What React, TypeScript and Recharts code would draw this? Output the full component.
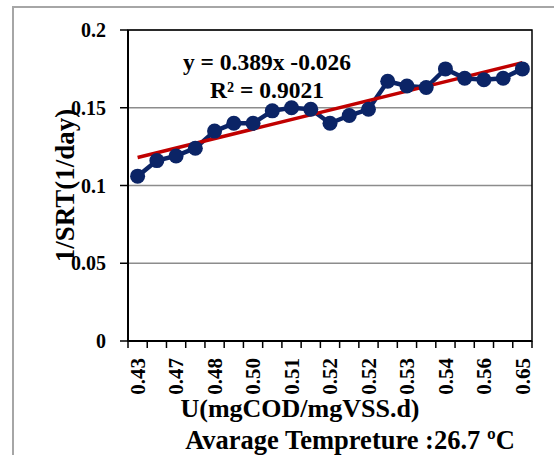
import { CartesianGrid, Customized, Line, LineChart, ReferenceArea, XAxis, YAxis } from 'recharts';

const FONT = '"Liberation Serif", "Times New Roman", serif';
const NAVY = '#0b2466';
const TREND_RED = '#c00000';
const GRID_GRAY = '#8c8c8c';

// every other category carries a label in the source chart
const tickLabels = ['0.43', '0.47', '0.48', '0.50', '0.51', '0.52', '0.52', '0.53', '0.54', '0.56', '0.65'];
const inverseSrt = [
	0.106, 0.116, 0.119, 0.124, 0.135, 0.14, 0.14, 0.148, 0.15, 0.149, 0.14, 0.145, 0.149, 0.167, 0.164,
	0.163, 0.175, 0.169, 0.168, 0.169, 0.175,
];
// linear trendline, first and last point
const trendEnds = [0.118, 0.179];
const yTicks = [0, 0.05, 0.1, 0.15, 0.2];
const equationLines = ['y = 0.389x -0.026', 'R² = 0.9021'];
const xTitle = 'U(mgCOD/mgVSS.d)';
const xSubtitle = 'Avarage Tempreture :26.7 ºC';
const yTitle = '1/SRT(1/day)';

const lastIndex = inverseSrt.length - 1;
const data = inverseSrt.map((value, i) => ({
	pos: i + 0.5,
	value,
	trend: i === 0 ? trendEnds[0] : i === lastIndex ? trendEnds[1] : null,
}));
const xTicks = Array.from({ length: inverseSrt.length * 2 + 1 }, (_, i) => i / 2);

function CategoryTick({ x, y, payload }: { x: number; y: number; payload: { value: number } }) {
	const v = payload.value;
	if (Number.isInteger(v)) {
		return <line x1={x} x2={x} y1={y} y2={y + 7} stroke="#000" strokeWidth={1.5} />;
	}
	const idx = Math.floor(v);
	if (idx % 2 !== 0) return <g />;
	const ty = y + 17;
	return (
		<text
			x={x}
			y={ty}
			dy="0.35em"
			transform={`rotate(-90 ${x} ${ty})`}
			textAnchor="end"
			fontFamily={FONT}
			fontWeight="bold"
			fontSize={21}
			fill="#000"
		>
			{tickLabels[idx / 2]}
		</text>
	);
}

function Annotations() {
	return (
		<g fontFamily={FONT} fontWeight="bold" fill="#000" textAnchor="middle">
			<text x={267} y={70} fontSize={23.5}>
				{equationLines[0]}
			</text>
			<text x={267} y={98} fontSize={23.5}>
				{equationLines[1]}
			</text>
			<text x={300} y={417} fontSize={26}>
				{xTitle}
			</text>
			<text x={350} y={449} fontSize={26.5}>
				{xSubtitle}
			</text>
			<text transform="translate(74 185.5) rotate(-90)" x={0} y={0} fontSize={27}>
				{yTitle}
			</text>
		</g>
	);
}

export default function App() {
	return (
		<div style={{ position: 'absolute', left: 0, top: 0, width: 554, height: 455, overflow: 'hidden', background: '#fff' }}>
			<div
				style={{
					position: 'absolute',
					left: 12,
					top: 6,
					width: 542,
					height: 449,
					borderLeft: '2px solid #a6a6a6',
					borderTop: '2px solid #a6a6a6',
					boxSizing: 'border-box',
				}}
			/>
			<div style={{ position: 'absolute', left: 0, top: 0 }}>
				<LineChart width={554} height={455} data={data} margin={{ top: 30, right: 22, bottom: 0, left: 68 }}>
					<CartesianGrid horizontal vertical={false} stroke={GRID_GRAY} strokeWidth={1.3} />
					<XAxis
						dataKey="pos"
						type="number"
						domain={[0, 21]}
						ticks={xTicks}
						interval={0}
						tick={CategoryTick}
						tickLine={false}
						tickSize={0}
						tickMargin={0}
						height={114}
						axisLine={{ stroke: '#000', strokeWidth: 2 }}
					/>
					<YAxis
						type="number"
						domain={[0, 0.2]}
						ticks={yTicks}
						width={60}
						tickSize={8}
						tickMargin={14}
						tickFormatter={(v) => String(v)}
						tick={{ fontFamily: FONT, fontWeight: 'bold', fontSize: 20, fill: '#000' }}
						tickLine={{ stroke: '#000', strokeWidth: 1.5 }}
						axisLine={{ stroke: '#000', strokeWidth: 2 }}
					/>
					<ReferenceArea x1={0} x2={21} y1={0} y2={0.2} fill="none" stroke="#000" strokeWidth={1.5} />
					<Line
						type="linear"
						dataKey="value"
						stroke={NAVY}
						strokeWidth={4.5}
						dot={{ r: 7.5, fill: NAVY, stroke: NAVY, strokeWidth: 0 }}
						activeDot={false}
						isAnimationActive={false}
					/>
					<Line
						type="linear"
						dataKey="trend"
						stroke={TREND_RED}
						strokeWidth={3.5}
						dot={false}
						activeDot={false}
						connectNulls
						isAnimationActive={false}
					/>
					<Customized component={Annotations} />
				</LineChart>
			</div>
		</div>
	);
}
